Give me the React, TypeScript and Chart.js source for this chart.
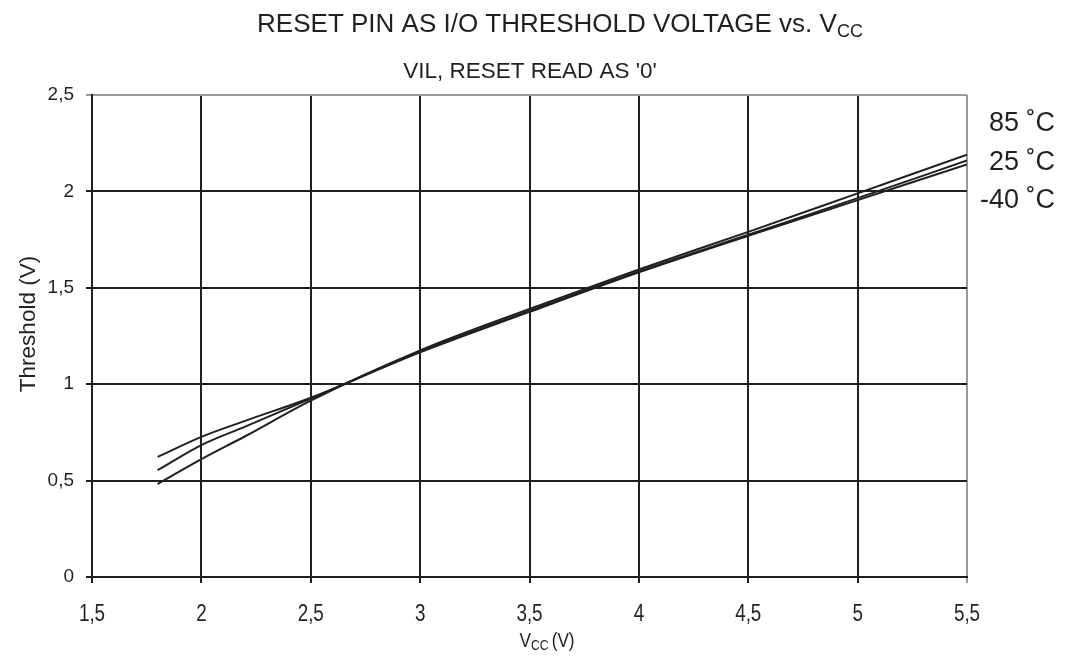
import React, { useEffect, useRef } from "react";
import { Chart, registerables } from "chart.js";

Chart.register(...registerables);

const vcc = [1.8, 2.0, 2.2, 2.5, 3.0, 3.5, 4.0, 4.5, 5.0, 5.5];
const tMinus40 = [0.623, 0.727, 0.81, 0.93, 1.165, 1.375, 1.58, 1.77, 1.955, 2.14];
const t25 = [0.554, 0.684, 0.78, 0.925, 1.17, 1.38, 1.585, 1.775, 1.965, 2.16];
const t85 = [0.482, 0.611, 0.73, 0.915, 1.175, 1.39, 1.595, 1.79, 1.99, 2.19];
const xTickValues = [1.5, 2, 2.5, 3, 3.5, 4, 4.5, 5, 5.5];
const xTickLabels = ["1,5", "2", "2,5", "3", "3,5", "4", "4,5", "5", "5,5"];
const yTickLabels = ["0", "0,5", "1", "1,5", "2", "2,5"];
const seriesLabels = ["85 ˚C", "25 ˚C", "-40 ˚C"];

const DARK = "#231f20";
const GREY = "#9a9a9a";
const FONT = "'Liberation Sans', Arial, sans-serif";
const NARROW_SCALE = 0.82;

const drawNarrow = (ctx: any, text: string, x: number, y: number, align: "left" | "center") => {
  ctx.save();
  ctx.translate(x, y);
  ctx.scale(NARROW_SCALE, 1);
  ctx.textAlign = align;
  ctx.fillText(text, 0, 0);
  ctx.restore();
};

const textPlugin = {
  id: "texts",
  afterDraw(chart: any) {
    const ctx = chart.ctx;
    ctx.save();
    ctx.fillStyle = DARK;
    ctx.textBaseline = "alphabetic";
    // Title with subscript
    const main = "RESET PIN AS I/O THRESHOLD VOLTAGE vs. V";
    ctx.font = `26px ${FONT}`;
    const w1 = ctx.measureText(main).width;
    ctx.font = `18px ${FONT}`;
    const w2 = ctx.measureText("CC").width;
    const start = 560 - (w1 + w2) / 2;
    ctx.font = `26px ${FONT}`;
    ctx.textAlign = "left";
    ctx.fillText(main, start, 32);
    ctx.font = `18px ${FONT}`;
    ctx.fillText("CC", start + w1, 37);
    // Subtitle
    ctx.font = `22.5px ${FONT}`;
    ctx.textAlign = "center";
    ctx.fillText("VIL, RESET READ AS '0'", 530, 78);
    // Right labels
    ctx.font = `27px ${FONT}`;
    ctx.textAlign = "right";
    const ys = [131, 170, 208];
    seriesLabels.forEach((s, i) => ctx.fillText(s, 1055, ys[i]));
    // X tick labels (narrow face), positioned by the x scale
    const xs = chart.scales.x;
    ctx.font = `23px ${FONT}`;
    xTickValues.forEach((v, i) => drawNarrow(ctx, xTickLabels[i], xs.getPixelForValue(v), 621, "center"));
    // X axis title (narrow face)
    ctx.font = `21px ${FONT}`;
    const wv = ctx.measureText("V").width * NARROW_SCALE;
    const wr = ctx.measureText("(V)").width * NARROW_SCALE;
    ctx.font = `15px ${FONT}`;
    const wcc = ctx.measureText("CC").width * NARROW_SCALE;
    const total = wv + wcc + 3 + wr;
    const x0 = 547 - total / 2;
    ctx.font = `21px ${FONT}`;
    drawNarrow(ctx, "V", x0, 647, "left");
    ctx.font = `15px ${FONT}`;
    drawNarrow(ctx, "CC", x0 + wv, 650, "left");
    ctx.font = `21px ${FONT}`;
    drawNarrow(ctx, "(V)", x0 + wv + wcc + 3, 647, "left");
    // Y axis title
    ctx.translate(35, 324);
    ctx.rotate(-Math.PI / 2);
    ctx.textAlign = "center";
    ctx.font = `22.5px ${FONT}`;
    ctx.fillText("Threshold (V)", 0, 0);
    ctx.restore();
  },
};

export default function App() {
  const ref = useRef<HTMLCanvasElement>(null);
  useEffect(() => {
    if (!ref.current) return;
    const mk = (ys: number[]) => vcc.map((x, i) => ({ x, y: ys[i] }));
    const ds = (label: string, ys: number[]) => ({
      label,
      data: mk(ys),
      borderColor: DARK,
      borderWidth: 2,
      pointRadius: 0,
      tension: 0.4,
      cubicInterpolationMode: "monotone" as const,
      fill: false,
    });
    const chart = new Chart(ref.current, {
      type: "line",
      data: {
        datasets: [ds(seriesLabels[0], t85), ds(seriesLabels[1], t25), ds(seriesLabels[2], tMinus40)],
      },
      options: {
        animation: false,
        responsive: false,
        maintainAspectRatio: false,
        layout: { padding: { left: 0, top: 95, right: 106, bottom: 0 } },
        plugins: { legend: { display: false }, tooltip: { enabled: false }, title: { display: false } },
        scales: {
          x: {
            type: "linear",
            min: 1.5,
            max: 5.5,
            afterFit: (s: any) => { s.height = 81; },
            ticks: {
              stepSize: 0.5,
              display: false,
              maxRotation: 0,
            },
            grid: {
              color: (c: any) => (c.tick && c.tick.value === 5.5 ? GREY : DARK),
              lineWidth: 2,
              tickLength: 6,
            },
            border: { color: DARK, width: 2 },
          },
          y: {
            min: 0,
            max: 2.5,
            afterFit: (s: any) => { s.width = 92; },
            ticks: {
              stepSize: 0.5,
              padding: 12,
              color: DARK,
              font: { family: FONT, size: 19 },
              callback: (_v: any, i: number) => yTickLabels[i],
            },
            grid: {
              color: (c: any) => (c.tick && c.tick.value === 2.5 ? GREY : DARK),
              lineWidth: 2,
              tickLength: 6,
            },
            border: { color: DARK, width: 2 },
          },
        },
      },
      plugins: [textPlugin],
    });
    return () => chart.destroy();
  }, []);
  return (
    <div style={{ position: "fixed", left: 0, top: 0, width: 1073, height: 658, background: "#fff" }}>
      <canvas ref={ref} width={1073} height={658} style={{ width: 1073, height: 658 }} />
    </div>
  );
}
